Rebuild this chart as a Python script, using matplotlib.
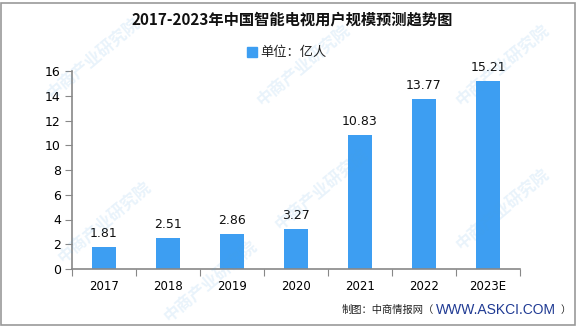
import matplotlib
matplotlib.use("Agg")
import matplotlib.pyplot as plt
from matplotlib.patches import Rectangle

plt.rcParams['font.family'] = ['Noto Sans CJK SC', 'DejaVu Sans']

# 中国智能电视用户规模（亿人）
years = ['2017', '2018', '2019', '2020', '2021', '2022', '2023E']
users = [1.81, 2.51, 2.86, 3.27, 10.83, 13.77, 15.21]
bar_color = '#3d9ef2'

W, H = 585, 327
fig = plt.figure(figsize=(W / 100, H / 100), dpi=100)
ax = fig.add_axes([72 / W, 1 - 269 / H, 448 / W, 198 / H])

x = range(len(years))
ax.bar(x, users, width=0.375, color=bar_color, zorder=2)
for i, v in enumerate(users):
    ax.text(i, v + 0.55, f'{v:.2f}', ha='center', va='bottom',
            fontsize=9, family='DejaVu Sans', color='#111111')

ax.set_xlim(-0.5, len(years) - 0.5)
ax.set_ylim(0, 16)
ax.set_yticks(range(0, 17, 2))
ax.set_xticks([i + 0.5 for i in range(-1, len(years))])
ax.set_xticklabels([])
ax.set_xticks(list(x), minor=True)
ax.set_xticklabels(years, minor=True, fontsize=8.5, family='DejaVu Sans')
ax.tick_params(axis='x', which='major', length=5, color='#888888', direction='out')
ax.tick_params(axis='x', which='minor', length=0, pad=8)
ax.tick_params(axis='y', length=5, color='#888888', labelsize=9, pad=3)
for lbl in ax.get_yticklabels():
    lbl.set_family('DejaVu Sans')
for s in ['top', 'right']:
    ax.spines[s].set_visible(False)
for s in ['left', 'bottom']:
    ax.spines[s].set_color('#888888')
    ax.spines[s].set_linewidth(1.2)

# 标题与图例
fig.text(292 / W, 1 - 20 / H, '2017-2023年中国智能电视用户规模预测趋势图',
         ha='center', va='center', fontsize=11, fontweight='bold', color='#111111')
fig.patches.append(Rectangle((247 / W, 1 - 57 / H), 10 / W, 10 / H,
                             transform=fig.transFigure, color=bar_color))
fig.text(260 / W, 1 - 52 / H, '单位：亿人', ha='left', va='center',
         fontsize=9.5, color='#222222')

# 水印
for wx, wy in [(0.16, 0.82), (0.52, 0.80), (0.86, 0.80), (0.18, 0.32),
               (0.55, 0.42), (0.86, 0.36), (0.36, 0.14)]:
    fig.text(wx, wy, '中商产业研究院', rotation=40, ha='center', va='center',
             fontsize=12, fontweight='bold', color='#4a9fe0', alpha=0.12, zorder=0)

# 来源
fy = 1 - 310 / H
fig.text(342 / W, fy, '制图：中商情报网（', ha='left', va='center',
         fontsize=7.4, color='#222222')
fig.text(436 / W, fy, 'WWW.ASKCI.COM', ha='left', va='center',
         fontsize=10, color='#1f3a93', family='Liberation Sans')
fig.text(566 / W, fy, '）', ha='center', va='center', fontsize=7.4, color='#222222')

# 外框
fig.patches.append(Rectangle((1 / W, 2 / H), 574 / W, 322 / H,
                             transform=fig.transFigure, fill=False,
                             edgecolor='#999999', linewidth=1.2))

fig.savefig('out.png', dpi=100)
